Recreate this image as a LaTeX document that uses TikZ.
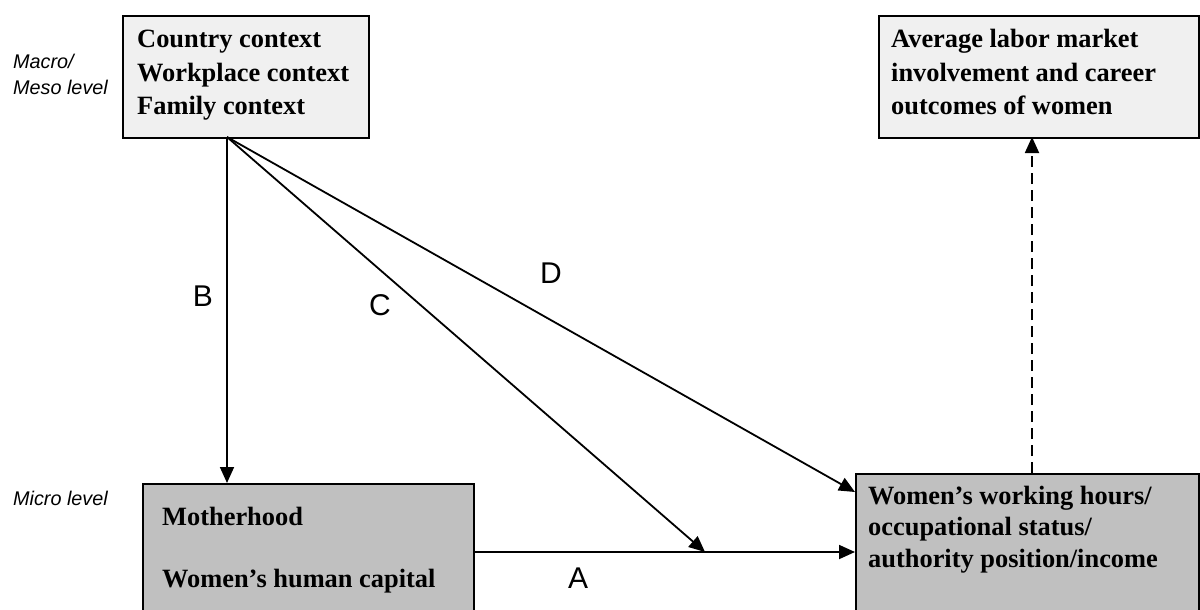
\documentclass[tikz,border=0pt]{standalone}
\usepackage{fontspec}
\setmainfont{Liberation Serif}
\setsansfont{Liberation Sans}
\usetikzlibrary{arrows.meta}
\definecolor{lightbox}{HTML}{F0F0F0}
\definecolor{darkbox}{HTML}{C0C0C0}
\begin{document}
\begin{tikzpicture}[x=1pt,y=-1pt,
  contextbox/.style={draw=black,line width=1.6pt,fill=lightbox,anchor=north west,inner sep=0pt},
  microbox/.style={draw=black,line width=1.6pt,fill=darkbox,anchor=north west,inner sep=0pt},
  boxtext/.style={anchor=base west,inner sep=0pt,font=\fontsize{26.4}{33.5}\selectfont\bfseries},
  leveltext/.style={anchor=base west,inner sep=0pt,font=\fontsize{19.8}{26}\selectfont\sffamily\itshape},
  pathlabel/.style={inner sep=0pt,font=\fontsize{30}{36}\selectfont\sffamily},
  arr/.style={line width=1.8pt,-{Triangle[length=16pt,width=14pt]}},
  dasharr/.style={arr,dash pattern=on 11pt off 6pt}
]
\useasboundingbox (0,0) rectangle (1200,610);
\clip (0,0) rectangle (1200,610);
\fill[white] (0,0) rectangle (1200,610);

% boxes
\node[contextbox,minimum width=246pt,minimum height=122pt] (ctx) at (122,15) {};
\node[contextbox,minimum width=320pt,minimum height=122pt] (avg) at (878,15) {};
\node[microbox,minimum width=331pt,minimum height=160pt] (mh) at (142,483) {};
\node[microbox,minimum width=343pt,minimum height=170pt] (out) at (855,473) {};

% box texts
\node[boxtext] (ctxtext) at (137,48) {\begin{tabular}[t]{@{}l@{}}Country context\\Workplace context\\Family context\end{tabular}};
\node[boxtext] (avgtext) at (891,48) {\begin{tabular}[t]{@{}l@{}}Average labor market\\involvement and career\\outcomes of women\end{tabular}};
\node[boxtext] (mhtext1) at (162,525) {Motherhood};
\node[boxtext] (mhtext2) at (162,587) {Women’s human capital};
\node[boxtext,font=\fontsize{26.4}{31.5}\selectfont\bfseries] (outtext) at (868,504) {\begin{tabular}[t]{@{}l@{}}Women’s working hours/\\occupational status/\\authority position/income\end{tabular}};

% level labels
\node[leveltext] (macro) at (13,69) {\begin{tabular}[t]{@{}l@{}}Macro/\\Meso level\end{tabular}};
\node[leveltext] (micro) at (13,505) {Micro level};

% connector end points
\coordinate (org) at (227,137);
\coordinate (dtip) at (855,492);
\coordinate (astart) at (473,552);
\coordinate (aend) at (855,552);
\coordinate (ctip) at (705,552);
\coordinate (dashstart) at (1032,473);
\coordinate (dashend) at (1032,137);

% connectors
\draw[arr] (org) -- (org |- mh.north);
\draw[arr] (org) -- (ctip);
\draw[arr] (org) -- (dtip);
\draw[arr] (astart) -- (aend);
\draw[dasharr] (dashstart) -- (dashend);

% path labels
\node[pathlabel] (labB) at (203,296) {B};
\node[pathlabel] (labC) at (380,305) {C};
\node[pathlabel] (labD) at (551,273) {D};
\node[pathlabel] (labA) at (578,578) {A};
\end{tikzpicture}
\end{document}
